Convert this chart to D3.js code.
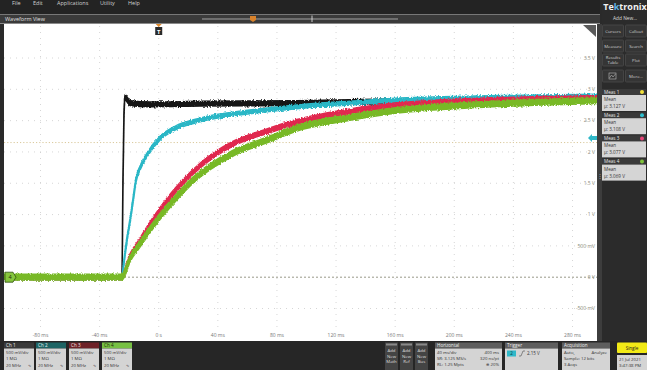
<!DOCTYPE html>
<html><head><meta charset="utf-8">
<script src="https://cdn.jsdelivr.net/npm/d3@7"></script>
<style>
html,body{margin:0;padding:0;background:#2a2a2a;overflow:hidden}
svg{display:block;font-family:"Open Sans","Noto Sans",sans-serif}
</style></head><body>
<svg id="scope" width="647" height="370"></svg>
<script>
// Horizontal axis: time (ms) and its labels
const timeTicks = [-80, -40, 0, 40, 80, 120, 160, 200, 240, 280];
const timeLabels = ["-80 ms", "-40 ms", "0 s", "40 ms", "80 ms", "120 ms", "160 ms", "200 ms", "240 ms", "280 ms"];
// Vertical axis: volts and its labels
const voltTicks = [3.5, 3, 2.5, 2, 1.5, 1, 0.5, 0, -0.5];
const voltLabels = ["3.5 V", "3 V", "2.5 V", "2 V", "1.5 V", "1 V", "500 mV", "0 V", "-500 mV"];

// Channel 1 (black) – time in ms, amplitude in V
const ch1Time = [-105, -24.9, -24.2, -23.5, -22.8, -21.5, -19.4, -5.9, 27.9, 93.5, 163.2, 296.5];
const ch1Volt = [0, 0, 1.5, 2.6, 2.88, 2.84, 2.78, 2.76, 2.77, 2.78, 2.81, 2.83];
// Channel 2 (cyan)
const ch2Time = [-105, -24.9, -23.5, -21.5, -19.4, -17.4, -15.4, -12.7, -8.0, 0.9, 11.0, 27.9, 61.7, 93.5, 129.4, 163.2, 230.9, 296.5];
const ch2Volt = [0, 0, 0.25, 0.6, 0.9, 1.22, 1.55, 1.74, 1.95, 2.22, 2.38, 2.51, 2.64, 2.72, 2.78, 2.83, 2.87, 2.89];
// Channel 3 (red)
const ch3Time = [-105, -24.9, -19.4, -12.7, -5.9, 0.9, 7.6, 16.4, 27.9, 50.2, 73.2, 93.5, 129.4, 163.2, 197.1, 230.9, 296.5];
const ch3Volt = [0, 0, 0.33, 0.58, 0.84, 1.07, 1.28, 1.52, 1.78, 2.13, 2.33, 2.48, 2.65, 2.75, 2.80, 2.83, 2.86];
// Channel 4 (green)
const ch4Time = [-105, -24.9, -19.4, -12.7, -5.9, 0.9, 7.6, 23.2, 50.2, 73.2, 93.5, 129.4, 163.2, 197.1, 230.9, 296.5];
const ch4Volt = [0, 0, 0.30, 0.53, 0.76, 0.97, 1.16, 1.55, 1.98, 2.19, 2.38, 2.55, 2.67, 2.73, 2.77, 2.82];

const triggerLevel = 2.15;

const measNames = ["Meas 1", "Meas 2", "Meas 3", "Meas 4"];
const measMeans = ["\u03bc: 3.127 V", "\u03bc: 3.108 V", "\u03bc: 3.077 V", "\u03bc: 3.069 V"];
const measDots = ["#f2e13a", "#2fc0cf", "#e8457a", "#7fc23a"];

const chNames = ["Ch 1", "Ch 2", "Ch 3", "Ch 4"];
const chScale = ["500 mV/div", "500 mV/div", "500 mV/div", "500 mV/div"];
const chImped = ["1 M\u03a9", "1 M\u03a9", "1 M\u03a9", "1 M\u03a9"];
const chBw = ["20 MHz", "20 MHz", "20 MHz", "20 MHz"];

const menuItems = ["File", "Edit", "Applications", "Utility", "Help"];

// ---------- layout ----------
const svg = d3.select("#scope");
const P = {x0: 4, x1: 597, y0: 24, y1: 341};
const x = d3.scaleLinear().domain([-80, 280]).range([40.5, 572.5]);
const y = d3.scaleLinear().domain([-0.5, 3.5]).range([308.5, 58]);

const defs = svg.append("defs");
defs.append("clipPath").attr("id", "plotClip")
  .append("rect").attr("x", P.x0).attr("y", P.y0).attr("width", P.x1 - P.x0).attr("height", P.y1 - P.y0);
// acquisition noise texture: vertical-only jitter on the trace bands
const fz = defs.append("filter").attr("id", "fuzz").attr("filterUnits", "userSpaceOnUse")
  .attr("x", 0).attr("y", 0).attr("width", 647).attr("height", 370);
fz.append("feTurbulence").attr("type", "fractalNoise").attr("baseFrequency", "1.3 0.7")
  .attr("numOctaves", 2).attr("seed", 7).attr("result", "n");
fz.append("feColorMatrix").attr("in", "n").attr("type", "matrix")
  .attr("values", "0 0 0 0 0.5  0 1 0 0 0  0 0 1 0 0  0 0 0 0 1").attr("result", "ny");
fz.append("feDisplacementMap").attr("in", "SourceGraphic").attr("in2", "ny")
  .attr("scale", 4).attr("xChannelSelector", "R").attr("yChannelSelector", "G");

// background chrome
svg.append("rect").attr("width", 647).attr("height", 370).attr("fill", "#2a2a2a");
// menu bar
svg.append("rect").attr("x", 0).attr("y", 0).attr("width", 600).attr("height", 14).attr("fill", "#232323");
const menuX = [12, 33, 57, 100, 128];
svg.selectAll(".menu").data(menuItems).join("text")
  .attr("x", (d, i) => menuX[i]).attr("y", 5).attr("font-size", 5.5).attr("fill", "#cfcfcf").text(d => d);
// waveform view title bar
svg.append("rect").attr("x", 0).attr("y", 14).attr("width", 600).attr("height", 10).attr("fill", "#3a3a3a");
svg.append("line").attr("x1", 0).attr("x2", 600).attr("y1", 14.5).attr("y2", 14.5).attr("stroke", "#777").attr("stroke-width", 1);
svg.append("line").attr("x1", 0).attr("x2", 600).attr("y1", 23.5).attr("y2", 23.5).attr("stroke", "#8a8a8a").attr("stroke-width", 1);
svg.append("text").attr("x", 5).attr("y", 21).attr("font-size", 5.5).attr("fill", "#e0e0e0").text("Waveform View");
// record overview slider
svg.append("line").attr("x1", 202).attr("x2", 398).attr("y1", 19).attr("y2", 19).attr("stroke", "#bdbdbd").attr("stroke-width", 0.8);
svg.append("line").attr("x1", 312).attr("x2", 312).attr("y1", 15.5).attr("y2", 22).attr("stroke", "#eee").attr("stroke-width", 0.8);
svg.append("path").attr("d", "M250,16 L256,16 L256,20 L253,22 L250,20 Z").attr("fill", "#d9822b");

// plot area
svg.append("rect").attr("x", P.x0).attr("y", P.y0).attr("width", P.x1 - P.x0).attr("height", P.y1 - P.y0).attr("fill", "#ffffff");

// graticule
const grid = svg.append("g").attr("clip-path", "url(#plotClip)");
grid.selectAll(".vg").data(timeTicks).join("line")
  .attr("x1", d => x(d)).attr("x2", d => x(d)).attr("y1", P.y0 + 2).attr("y2", 331)
  .attr("stroke", "#cccccc").attr("stroke-width", 0.8).attr("stroke-dasharray", "1,5");
grid.selectAll(".hg").data(voltTicks.filter(v => v !== 0)).join("line")
  .attr("x1", P.x0).attr("x2", P.x1).attr("y1", d => y(d)).attr("y2", d => y(d))
  .attr("stroke", "#cccccc").attr("stroke-width", 0.8).attr("stroke-dasharray", "1,5");

// axis labels
svg.append("g").selectAll("text").data(timeTicks).join("text")
  .attr("x", d => x(d)).attr("y", 337).attr("text-anchor", "middle")
  .attr("font-size", 5).attr("fill", "#777").text((d, i) => timeLabels[i]);
svg.append("g").selectAll("text").data(voltTicks).join("text")
  .attr("x", 595).attr("y", d => y(d) + 1.8).attr("text-anchor", "end")
  .attr("font-size", 5).attr("fill", "#8a8a78").text((d, i) => voltLabels[i]);

// reference levels
svg.append("line").attr("x1", P.x0).attr("x2", P.x1).attr("y1", y(0)).attr("y2", y(0))
  .attr("stroke", "#8c8c7a").attr("stroke-width", 0.9).attr("stroke-dasharray", "2,2");
svg.append("line").attr("x1", P.x0).attr("x2", P.x1).attr("y1", y(triggerLevel)).attr("y2", y(triggerLevel))
  .attr("stroke", "#d6c392").attr("stroke-width", 0.9).attr("stroke-dasharray", "1.2,2");

// traces: each drawn as a band of fixed vertical thickness (noise envelope)
// plus a thin outline, so steep edges stay narrow while flat stretches look thick
const traces = [
  {t: ch1Time, v: ch1Volt, c: "#141414", h: 2.3, w: 1.6},
  {t: ch2Time, v: ch2Volt, c: "#2bb7c6", h: 1.7, w: 1.8},
  {t: ch3Time, v: ch3Volt, c: "#e0294f", h: 2.0, w: 2.2},
  {t: ch4Time, v: ch4Volt, c: "#78b928", h: 2.4, w: 2.4}
];
const tg = svg.append("g").attr("clip-path", "url(#plotClip)").append("g").attr("filter", "url(#fuzz)");
traces.forEach(tr => {
  const band = d3.area()
    .x(d => x(d[0]))
    .y0(d => y(d[1]) + tr.h)
    .y1(d => y(d[1]) - tr.h)
    .curve(d3.curveMonotoneX);
  tg.append("path")
    .attr("d", band(tr.t.map((t, i) => [t, tr.v[i]])))
    .attr("fill", tr.c)
    .attr("stroke", tr.c).attr("stroke-width", tr.w).attr("stroke-linejoin", "round");
});

// trigger position marker
svg.append("path").attr("d", `M${x(0) - 3},24 L${x(0) + 3},24 L${x(0)},27 Z`).attr("fill", "#e08a2c");
svg.append("rect").attr("x", x(0) - 3.5).attr("y", 27).attr("width", 7).attr("height", 8).attr("fill", "#2a2a2a");
svg.append("text").attr("x", x(0)).attr("y", 33.5).attr("text-anchor", "middle").attr("font-size", 6)
  .attr("font-weight", "bold").attr("fill", "#fff").text("T");
// corner badge
svg.append("path").attr("d", "M583,25 L596,25 L596,37 Z").attr("fill", "#5a5a5a");
// channel 4 ground marker
svg.append("path").attr("d", `M5,${y(0) - 5} L13,${y(0) - 5} L16,${y(0)} L13,${y(0) + 5} L5,${y(0) + 5} Z`)
  .attr("fill", "#86c53c").attr("stroke", "#2f4f10").attr("stroke-width", 0.8);
svg.append("text").attr("x", 10).attr("y", y(0) + 2).attr("text-anchor", "middle").attr("font-size", 5.5)
  .attr("fill", "#1c2c0a").text("4");
// trigger level marker
const ty = 138;
svg.append("path").attr("d", `M588,${ty} L592,${ty - 4} L592,${ty - 2} L597,${ty - 2} L597,${ty + 2} L592,${ty + 2} L592,${ty + 4} Z`)
  .attr("fill", "#2fb8c8");

// right edge strip
svg.append("rect").attr("x", 597).attr("y", 24).attr("width", 5).attr("height", 317).attr("fill", "#3d3d3d");
svg.append("text").attr("x", 599.5).attr("y", 178).attr("text-anchor", "middle").attr("font-size", 6).attr("fill", "#aaa").text("\u22ee");

// right side panel
svg.append("rect").attr("x", 602).attr("y", 0).attr("width", 45).attr("height", 341).attr("fill", "#2b2b2b");
const logo = svg.append("text").attr("x", 625).attr("y", 10).attr("text-anchor", "middle")
  .attr("font-size", 9).attr("font-weight", "bold").attr("fill", "#f2f2f2");
logo.append("tspan").text("Te");
logo.append("tspan").attr("fill", "#5fb4e6").text("k");
logo.append("tspan").text("tronix");
svg.append("text").attr("x", 625).attr("y", 20).attr("text-anchor", "middle").attr("font-size", 4.8).attr("fill", "#ddd").text("Add New...");
const btns = [
  ["Cursors", 602, 25], ["Callout", 625, 25],
  ["Measure", 602, 40], ["Search", 625, 40],
  ["Results|Table", 602, 54], ["Plot", 625, 54],
  ["", 602, 70], ["More...", 625, 70]
];
btns.forEach(b => {
  svg.append("rect").attr("x", b[1] + 0.5).attr("y", b[2]).attr("width", 21).attr("height", 12).attr("rx", 1)
    .attr("fill", "#353535").attr("stroke", "#4e4e4e").attr("stroke-width", 0.7);
  const parts = b[0].split("|");
  parts.forEach((p, i) => {
    svg.append("text").attr("x", b[1] + 11).attr("y", b[2] + 7.5 + (i - (parts.length - 1) / 2) * 4.5)
      .attr("text-anchor", "middle").attr("font-size", 4.3).attr("fill", "#cfcfcf").text(p);
  });
});
// waveform-view icon
svg.append("rect").attr("x", 609).attr("y", 73).attr("width", 7).attr("height", 6).attr("fill", "none").attr("stroke", "#bbb").attr("stroke-width", 0.6);
svg.append("path").attr("d", "M609.5,78 L611.5,75 L613,77 L615.5,74").attr("fill", "none").attr("stroke", "#bbb").attr("stroke-width", 0.6);

// measurement badges
measNames.forEach((m, i) => {
  const y0 = 89 + i * 23.2;
  svg.append("rect").attr("x", 602).attr("y", y0).attr("width", 44).attr("height", 6).attr("fill", "#3a3a3a");
  svg.append("text").attr("x", 604).attr("y", y0 + 4.7).attr("font-size", 4.6).attr("fill", "#e8e8e8").text(m);
  svg.append("circle").attr("cx", 642).attr("cy", y0 + 3).attr("r", 2).attr("fill", measDots[i]);
  svg.append("rect").attr("x", 602).attr("y", y0 + 6).attr("width", 44).attr("height", 16).attr("fill", "#d5d5d5");
  svg.append("text").attr("x", 604).attr("y", y0 + 12).attr("font-size", 4.6).attr("fill", "#333").text("Mean");
  svg.append("text").attr("x", 604).attr("y", y0 + 19).attr("font-size", 4.6).attr("fill", "#333").text(measMeans[i]);
});

// bottom settings bar
svg.append("rect").attr("x", 0).attr("y", 341).attr("width", 647).attr("height", 29).attr("fill", "#262626");
const chHead = ["#3a3a3a", "#1d6464", "#6e2228", "#77c043"];
const chHeadText = ["#f0f0f0", "#e8f4f4", "#f4e6e6", "#1c2c0a"];
const chX = [4, 36, 69, 102];
chNames.forEach((n, i) => {
  const bx = chX[i];
  svg.append("rect").attr("x", bx).attr("y", 342.5).attr("width", 30).attr("height", 6).attr("fill", chHead[i]);
  svg.append("text").attr("x", bx + 2).attr("y", 347.3).attr("font-size", 4.6).attr("fill", chHeadText[i]).text(n);
  svg.append("rect").attr("x", bx).attr("y", 348.5).attr("width", 30).attr("height", 21.5).attr("fill", "#d4d4d4");
  svg.append("text").attr("x", bx + 2).attr("y", 354).attr("font-size", 4.3).attr("fill", "#333").text(chScale[i]);
  svg.append("text").attr("x", bx + 2).attr("y", 360).attr("font-size", 4.3).attr("fill", "#333").text(chImped[i]);
  svg.append("text").attr("x", bx + 2).attr("y", 366.5).attr("font-size", 4.3).attr("fill", "#333").text(chBw[i]);
  svg.append("text").attr("x", bx + 27).attr("y", 366.5).attr("text-anchor", "end").attr("font-size", 4.3).attr("fill", "#333").text("\u223f");
});

// add-new buttons
const addBtns = [["Add", "New", "Math", 385], ["Add", "New", "Ref", 400], ["Add", "New", "Bus", 415]];
addBtns.forEach(b => {
  svg.append("rect").attr("x", b[3]).attr("y", 342.5).attr("width", 13).attr("height", 27.5).attr("fill", "#444");
  svg.append("rect").attr("x", b[3] + 1).attr("y", 343.5).attr("width", 11).attr("height", 2).attr("fill", "#8a8a8a");
  [0, 1, 2].forEach(k => svg.append("text").attr("x", b[3] + 6.5).attr("y", 352 + k * 5.5).attr("text-anchor", "middle")
    .attr("font-size", 4.3).attr("fill", "#ddd").text(b[k]));
});

// status panels
function panel(px, w, title, rows) {
  svg.append("rect").attr("x", px).attr("y", 342.5).attr("width", w).attr("height", 6).attr("fill", "#5e5e5e");
  svg.append("text").attr("x", px + 2).attr("y", 347.3).attr("font-size", 4.6).attr("fill", "#f0f0f0").text(title);
  svg.append("rect").attr("x", px).attr("y", 348.5).attr("width", w).attr("height", 21.5).attr("fill", "#d4d4d4");
  rows.forEach((r, i) => {
    svg.append("text").attr("x", px + 2).attr("y", 354 + i * 6).attr("font-size", 4.3).attr("fill", "#333").text(r[0]);
    if (r[1]) svg.append("text").attr("x", px + w - 3).attr("y", 354 + i * 6).attr("text-anchor", "end")
      .attr("font-size", 4.3).attr("fill", "#333").text(r[1]);
  });
}
panel(435, 67, "Horizontal", [["40 ms/div", "400 ms"], ["SR: 3.125 MS/s", "320 ns/pt"], ["RL: 1.25 Mpts", "\u2295 20%"]]);
panel(505, 53, "Trigger", []);
svg.append("rect").attr("x", 507).attr("y", 350.5).attr("width", 9).attr("height", 6).attr("fill", "#2fb8c8");
svg.append("text").attr("x", 511.5).attr("y", 355.3).attr("text-anchor", "middle").attr("font-size", 4.5).attr("fill", "#0d3b40").text("2");
svg.append("path").attr("d", "M519,356 L521,356 L523,351 L525,351").attr("fill", "none").attr("stroke", "#333").attr("stroke-width", 0.5);
svg.append("text").attr("x", 527).attr("y", 355.3).attr("font-size", 4.5).attr("fill", "#333").text("2.15 V");
panel(562, 48, "Acquisition", [["Auto,", "Analyze"], ["Sample: 12 bits", ""], ["3 Acqs", ""]]);

// run/stop button and clock
svg.append("rect").attr("x", 617).attr("y", 342.5).attr("width", 30).attr("height", 10.5).attr("rx", 1).attr("fill", "#f2ea16");
svg.append("text").attr("x", 632).attr("y", 349.5).attr("text-anchor", "middle").attr("font-size", 4.6).attr("fill", "#222").text("Single");
svg.append("rect").attr("x", 617).attr("y", 355).attr("width", 30).attr("height", 15).attr("fill", "#d4d4d4");
svg.append("text").attr("x", 619).attr("y", 361).attr("font-size", 4.3).attr("fill", "#333").text("21 Jul 2021");
svg.append("text").attr("x", 619).attr("y", 367).attr("font-size", 4.3).attr("fill", "#333").text("3:47:38 PM");
</script>
</body></html>
